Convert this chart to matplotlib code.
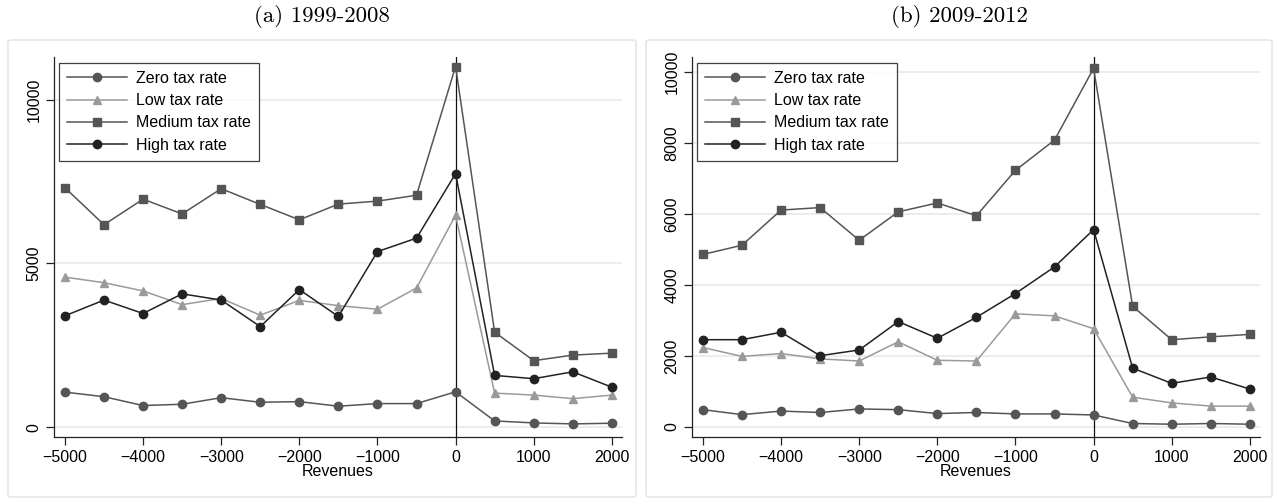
import matplotlib
matplotlib.use("Agg")
import matplotlib.pyplot as plt
from matplotlib.patches import FancyBboxPatch

# revenue bins
revenues = [-5000, -4500, -4000, -3500, -3000, -2500, -2000, -1500,
            -1000, -500, 0, 500, 1000, 1500, 2000]

# (a) 1999-2008
zero_a = [1070, 930, 660, 700, 900, 760, 780, 640, 720, 720, 1080, 190, 130, 100, 120]
low_a = [4580, 4410, 4160, 3740, 3930, 3420, 3870, 3710, 3600, 4250, 6470, 1040, 980, 870, 980]
medium_a = [7310, 6180, 6960, 6510, 7280, 6800, 6330, 6810, 6900, 7080, 11010, 2900, 2030, 2200, 2260]
high_a = [3400, 3880, 3470, 4070, 3880, 3070, 4200, 3380, 5360, 5770, 7740, 1580, 1480, 1690, 1220]

# (b) 2009-2012
zero_b = [490, 350, 450, 410, 510, 490, 380, 410, 370, 370, 340, 100, 80, 100, 80]
low_b = [2240, 1990, 2070, 1920, 1860, 2400, 1880, 1860, 3190, 3130, 2770, 840, 680, 590, 590]
medium_b = [4860, 5120, 6110, 6180, 5260, 6060, 6310, 5950, 7230, 8080, 10100, 3400, 2460, 2540, 2610]
high_b = [2460, 2460, 2670, 2010, 2170, 2970, 2500, 3090, 3760, 4510, 5560, 1660, 1230, 1410, 1070]

series_names = ["Zero tax rate", "Low tax rate", "Medium tax rate", "High tax rate"]
styles = [
    dict(color="#555555", marker="o"),
    dict(color="#9a9a9a", marker="^"),
    dict(color="#555555", marker="s"),
    dict(color="#222222", marker="o"),
]

panels = [
    dict(title="(a) 1999-2008", data=[zero_a, low_a, medium_a, high_a],
         yticks=[0, 5000, 10000], ylim=(-300, 11300),
         rect=[54 / 1278, 1 - 437 / 499, 568 / 1278, 380 / 499],
         box=(8, 40, 628, 457)),
    dict(title="(b) 2009-2012", data=[zero_b, low_b, medium_b, high_b],
         yticks=[0, 2000, 4000, 6000, 8000, 10000], ylim=(-280, 10420),
         rect=[692 / 1278, 1 - 437 / 499, 568 / 1278, 380 / 499],
         box=(646, 40, 626, 457)),
]

W, H = 1278, 499
fig = plt.figure(figsize=(W / 100, H / 100), dpi=100)
fig.patch.set_facecolor("white")

sans = ["Liberation Sans", "DejaVu Sans"]
fs = 11.5

for p in panels:
    bx, by, bw, bh = p["box"]
    frame = FancyBboxPatch((bx / W, 1 - (by + bh) / H), bw / W, bh / H,
                           boxstyle="round,pad=0,rounding_size=0.004",
                           transform=fig.transFigure, facecolor="none",
                           edgecolor="#e6e6e6", linewidth=1.2, zorder=-10)
    fig.patches.append(frame)
    fig.text((bx + bw / 2) / W, 1 - 17 / H, p["title"], ha="center", va="center",
             family="cmr10", fontsize=16.5)

    ax = fig.add_axes(p["rect"])
    ax.set_facecolor("none")
    for name, vals, st in zip(series_names, p["data"], styles):
        ax.plot(revenues, vals, color=st["color"], marker=st["marker"],
                markersize=6, linewidth=1.1, label=name, zorder=3)
    ax.axvline(0, color="#111111", linewidth=0.9, zorder=2)

    ax.set_xlim(-5140, 2130)
    ax.set_ylim(*p["ylim"])
    ax.set_xticks([-5000, -4000, -3000, -2000, -1000, 0, 1000, 2000])
    ax.set_yticks(p["yticks"])
    for t in p["yticks"]:
        ax.axhline(t, color="#ebebeb", linewidth=1.3, zorder=1)

    for s in ["top", "right"]:
        ax.spines[s].set_visible(False)
    for s in ["left", "bottom"]:
        ax.spines[s].set_linewidth(0.9)
        ax.spines[s].set_color("#222222")
    ax.tick_params(direction="out", length=6, width=0.9, color="#222222",
                   labelsize=fs, pad=3)
    for lab in ax.get_xticklabels() + ax.get_yticklabels():
        lab.set_family(sans)
    for lab in ax.get_yticklabels():
        lab.set_rotation(90)
        lab.set_va("center")
    ax.set_xlabel("Revenues", family=sans, fontsize=fs, labelpad=0)

    leg = ax.legend(loc="upper left", bbox_to_anchor=(0.009, 0.984),
                    prop={"family": sans, "size": fs}, frameon=True,
                    fancybox=False, handlelength=3.75, borderpad=0.5,
                    labelspacing=0.45, handletextpad=0.55, borderaxespad=0)
    leg.get_frame().set_edgecolor("#111111")
    leg.get_frame().set_linewidth(0.9)

fig.savefig("out.png", dpi=100)
